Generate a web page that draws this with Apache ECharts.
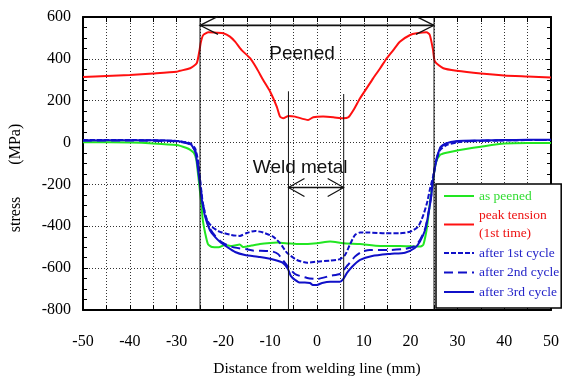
<!DOCTYPE html>
<html>
<head>
<meta charset="utf-8">
<script src="https://cdn.jsdelivr.net/npm/echarts@6/dist/echarts.min.js"></script>
<style>
  html, body { margin: 0; padding: 0; background: #fff; }
  #chart { width: 568px; height: 376px; }
</style>
</head>
<body>
<div id="chart"></div>
<script>
// Residual stress profiles across the weld (distance in mm, stress in MPa)
const peakTensionX = [-50, -45, -40, -35, -30, -29.3, -27.1, -25.7, -25.1, -24.8, -24.3, -23.2, -21.4, -20, -18.6, -17.5, -16.1, -14.3, -12.9, -11.5, -10, -8.6, -7.9, -7.2, -6.1, -4.7, -1.9, -0.8, 1.3, 3.5, 5.6, 6.7, 7.8, 9.2, 10.6, 12, 13.5, 14.9, 16.3, 17.7, 19.9, 21.3, 23.4, 24.1, 24.8, 25.2, 27, 29.8, 35, 40, 45, 50];
const peakTensionY = [313, 318, 323, 330, 338, 343, 355, 379, 442, 482, 514, 527, 525, 522, 506, 482, 442, 403, 355, 299, 243, 172, 124, 116, 127, 124, 108, 121, 124, 121, 116, 121, 156, 212, 259, 307, 355, 403, 442, 482, 514, 522, 527, 514, 442, 387, 355, 343, 330, 321, 316, 311];

const asPeenedX = [-50, -40, -35, -30, -28, -27, -26.3, -25.8, -25.4, -24.8, -24.4, -23.9, -23.3, -22.4, -21, -19.7, -18.2, -16.5, -15.8, -14, -12.2, -10, -8.5, -6, -3.6, 0, 2.8, 5.6, 9.2, 13.5, 17.7, 22, 22.7, 23.3, 23.7, 24.2, 24.8, 25.4, 26.3, 27.4, 30.5, 35, 40, 45, 50];
const asPeenedY = [2, 0, -4, -12, -25, -36, -50, -80, -155, -275, -370, -432, -485, -499, -500, -489, -494, -487, -499, -492, -485, -480, -478, -482, -485, -481, -473, -481, -485, -494, -494, -497, -489, -432, -370, -274, -179, -97, -59, -50, -35, -20, -5, -2, -2];

const cycle1X = [-50, -40, -30, -28, -27, -26, -25.4, -25, -24.4, -23.5, -22.4, -20.7, -18.6, -16.5, -15, -13.2, -11.5, -9.4, -7.9, -6.4, -4.3, -2.1, 0, 2.8, 4.9, 6, 7, 8.1, 9.2, 11.3, 14.5, 17.7, 19.9, 21.6, 22.6, 23.5, 24.1, 24.8, 25.4, 26.3, 27.8, 30.5, 35, 40, 45, 50];
const cycle1Y = [12, 12, 8, 2, -5, -30, -90, -170, -289, -370, -403, -427, -440, -446, -432, -422, -430, -449, -480, -527, -561, -574, -569, -564, -557, -537, -489, -442, -430, -430, -433, -433, -426, -402, -354, -289, -226, -163, -93, -35, -11, 3, 8, 10, 12, 12];

const cycle2X = [-50, -40, -30, -28, -27, -26, -25.4, -25, -24.6, -23.9, -22.9, -21.8, -20.7, -19.2, -17.5, -15, -13.7, -11, -9.4, -8.3, -6.8, -4.7, -2.1, 0, 2.8, 4.9, 5.6, 6.6, 8.1, 9.6, 11.3, 15.6, 18.8, 20.9, 22, 23.1, 23.7, 24.4, 24.8, 25.4, 26.3, 27.4, 30, 35, 40, 45, 50];
const cycle2Y = [10, 10, 6, -2, -10, -40, -110, -185, -260, -345, -410, -445, -470, -490, -502, -510, -516, -518, -521, -533, -576, -628, -647, -652, -637, -628, -612, -585, -545, -521, -513, -513, -508, -495, -466, -412, -350, -255, -175, -90, -25, -8, 5, 9, 11, 12, 13];

const cycle3X = [-50, -40, -35, -30, -28, -27, -26, -25.4, -25, -24.6, -23.9, -22.9, -21.8, -20.7, -19.2, -17.5, -15.4, -12.2, -9, -7.3, -6.2, -5.6, -4.7, -3.6, -2.6, -1.5, -0.9, 0, 1.1, 2.8, 4.9, 5.6, 6.4, 7.5, 9.2, 11.8, 15.6, 18.8, 20.9, 22, 23.1, 23.7, 24.4, 24.8, 25.4, 26.3, 27.4, 30, 35, 40, 45, 50];
const cycle3Y = [10, 11, 11, 8, 0, -7, -45, -131, -203, -274, -355, -418, -451, -475, -499, -523, -537, -547, -561, -575, -604, -637, -656, -669, -669, -671, -680, -680, -671, -665, -665, -652, -623, -593, -561, -542, -532, -526, -504, -473, -418, -354, -258, -179, -97, -26, -5, 8, 10, 12, 13, 14];

// Axis tick labels
const xLabelValues = [-50, -40, -30, -20, -10, 0, 10, 20, 30, 40, 50];
const yLabelValues = [-800, -600, -400, -200, 0, 200, 400, 600];

// Annotated zones (mm) and where their arrows / captions sit (MPa)
const peenedZone = [-25, 25];
const weldZone = [-6.1, 5.7];
const weldMarkerTops = [245, 232];
const peenedArrowLevel = 560;
const weldArrowLevel = -215;
const peenedCaption = { text: 'Peened', at: [-3.2, 423] };
const weldCaption = { text: 'Weld metal', at: [-3.6, -121] };

const SERIF = '"Liberation Serif", "Times New Roman", serif';
const SANS = '"Liberation Sans", Arial, sans-serif';
const GREEN = '#22e622';
const RED = '#ff1010';
const BLUE = '#1010c8';

function pairs(xs, ys) { return xs.map((x, i) => [x, ys[i]]); }

function curve(name, xs, ys, color, dash) {
  return {
    name: name,
    type: 'line',
    data: pairs(xs, ys),
    symbol: 'none',
    smooth: 0.2,
    z: 3,
    lineStyle: { color: color, width: 2, type: dash || 'solid' },
    itemStyle: { color: color },
    emphasis: { disabled: true }
  };
}

function drawAnnotations(params, api) {
  const children = [];
  const stroke = '#111';
  const seg = (a, b, w) => ({
    type: 'line',
    shape: { x1: a[0], y1: a[1], x2: b[0], y2: b[1] },
    style: { stroke: stroke, lineWidth: w }
  });
  const arrow = (l, r, len, half) => {
    children.push(seg(l, r, 1.6));
    children.push({ type: 'polyline', shape: { points: [[l[0] + len, l[1] - half], l, [l[0] + len, l[1] + half]] }, style: { stroke: stroke, lineWidth: 1.2, fill: null } });
    children.push({ type: 'polyline', shape: { points: [[r[0] - len, r[1] - half], r, [r[0] - len, r[1] + half]] }, style: { stroke: stroke, lineWidth: 1.2, fill: null } });
  };
  const caption = (c) => {
    const p = api.coord(c.at);
    children.push({
      type: 'text', x: p[0], y: p[1],
      style: { text: c.text, font: '19px ' + SANS, fill: '#111', textAlign: 'center', textVerticalAlign: 'middle', align: 'center', verticalAlign: 'middle' }
    });
  };
  // peened zone boundaries
  peenedZone.forEach(x => children.push(seg(api.coord([x, 600]), api.coord([x, -800]), 1)));
  // weld metal boundaries
  weldZone.forEach((x, i) => children.push(seg(api.coord([x, weldMarkerTops[i]]), api.coord([x, -800]), 1)));
  arrow(api.coord([peenedZone[0], peenedArrowLevel]), api.coord([peenedZone[1], peenedArrowLevel]), 18, 9);
  arrow(api.coord([weldZone[0], weldArrowLevel]), api.coord([weldZone[1], weldArrowLevel]), 16, 9);
  caption(peenedCaption);
  caption(weldCaption);
  return { type: 'group', children: children };
}

const axisLineStyle = { show: true, onZero: false, lineStyle: { color: '#000', width: 2 } };
const dottedGrid = { show: true, lineStyle: { color: '#333', width: 1, type: [1, 2] } };

const chart = echarts.init(document.getElementById('chart'), null, { renderer: 'canvas' });
chart.setOption({
  animation: false,
  backgroundColor: '#fff',
  grid: { left: 83, right: 17, top: 17, bottom: 66, containLabel: false, outerBoundsMode: 'none' },
  xAxis: [
    {
      type: 'value', min: -50, max: 50, interval: 5, position: 'bottom',
      axisLine: axisLineStyle,
      axisTick: { show: true, inside: true, length: 5, lineStyle: { color: '#000', width: 1 } },
      splitLine: dottedGrid,
      axisLabel: {
        margin: 24, color: '#000', fontFamily: SERIF, fontSize: 16,
        formatter: v => (xLabelValues.includes(v) ? String(v) : '')
      },
      name: 'Distance from welding line (mm)',
      nameLocation: 'middle', nameGap: 51,
      nameTextStyle: { color: '#000', fontFamily: SERIF, fontSize: 15.5 }
    },
    {
      type: 'value', min: -50, max: 50, interval: 5, position: 'top',
      axisLine: axisLineStyle,
      axisTick: { show: true, inside: true, length: 5, lineStyle: { color: '#000', width: 1 } },
      splitLine: { show: false },
      axisLabel: { show: false }
    }
  ],
  yAxis: [
    {
      type: 'value', min: -800, max: 600, interval: 200, position: 'left',
      axisLine: axisLineStyle,
      axisTick: { show: true, inside: true, length: 5, lineStyle: { color: '#000', width: 1 } },
      minorTick: { show: true, splitNumber: 4, length: 4, lineStyle: { color: '#000', width: 1 } },
      splitLine: dottedGrid,
      axisLabel: {
        margin: 12, color: '#000', fontFamily: SERIF, fontSize: 16,
        formatter: v => (yLabelValues.includes(v) ? String(v) : '')
      }
    },
    {
      type: 'value', min: -800, max: 600, interval: 200, position: 'right',
      axisLine: axisLineStyle,
      axisTick: { show: true, inside: true, length: 5, lineStyle: { color: '#000', width: 1 } },
      minorTick: { show: true, splitNumber: 4, length: 4, lineStyle: { color: '#000', width: 1 } },
      splitLine: { show: false },
      axisLabel: { show: false }
    }
  ],
  legend: {
    orient: 'vertical', left: 436, top: 184,
    padding: [3, 2, 7, 7],
    itemWidth: 30, itemHeight: 14, itemGap: 1.5,
    itemTextGap: 2,
    itemStyle: { opacity: 0 },
    backgroundColor: '#fff', borderColor: '#000', borderWidth: 1.5,
    selectedMode: false,
    textStyle: { fontFamily: SERIF, fontSize: 13.5, lineHeight: 18 },
    data: [
      { name: 'as peened', textStyle: { color: '#33dd33' } },
      { name: 'peak tension\n(1st time)', textStyle: { color: '#ee1111' } },
      { name: 'after 1st cycle', textStyle: { color: '#2424c8' } },
      { name: 'after 2nd cycle', textStyle: { color: '#2424c8' } },
      { name: 'after 3rd cycle', textStyle: { color: '#2424c8' } }
    ]
  },
  graphic: [
    {
      type: 'text', x: 16, y: 178, rotation: Math.PI / 2,
      style: {
        text: 'stress\u3000\u3000(MPa)', fill: '#000',
        font: '16px ' + SERIF + ', "Noto Sans CJK JP"',
        textAlign: 'center', textVerticalAlign: 'middle', align: 'center', verticalAlign: 'middle'
      }
    }
  ],
  series: [
    curve('as peened', asPeenedX, asPeenedY, GREEN),
    curve('peak tension\n(1st time)', peakTensionX, peakTensionY, RED),
    curve('after 1st cycle', cycle1X, cycle1Y, BLUE, [5, 2]),
    curve('after 2nd cycle', cycle2X, cycle2Y, BLUE, [9, 5]),
    curve('after 3rd cycle', cycle3X, cycle3Y, BLUE),
    {
      type: 'custom', coordinateSystem: 'cartesian2d', silent: true, z: 4,
      data: [[0, 0]], renderItem: drawAnnotations
    }
  ]
});
</script>
</body>
</html>
